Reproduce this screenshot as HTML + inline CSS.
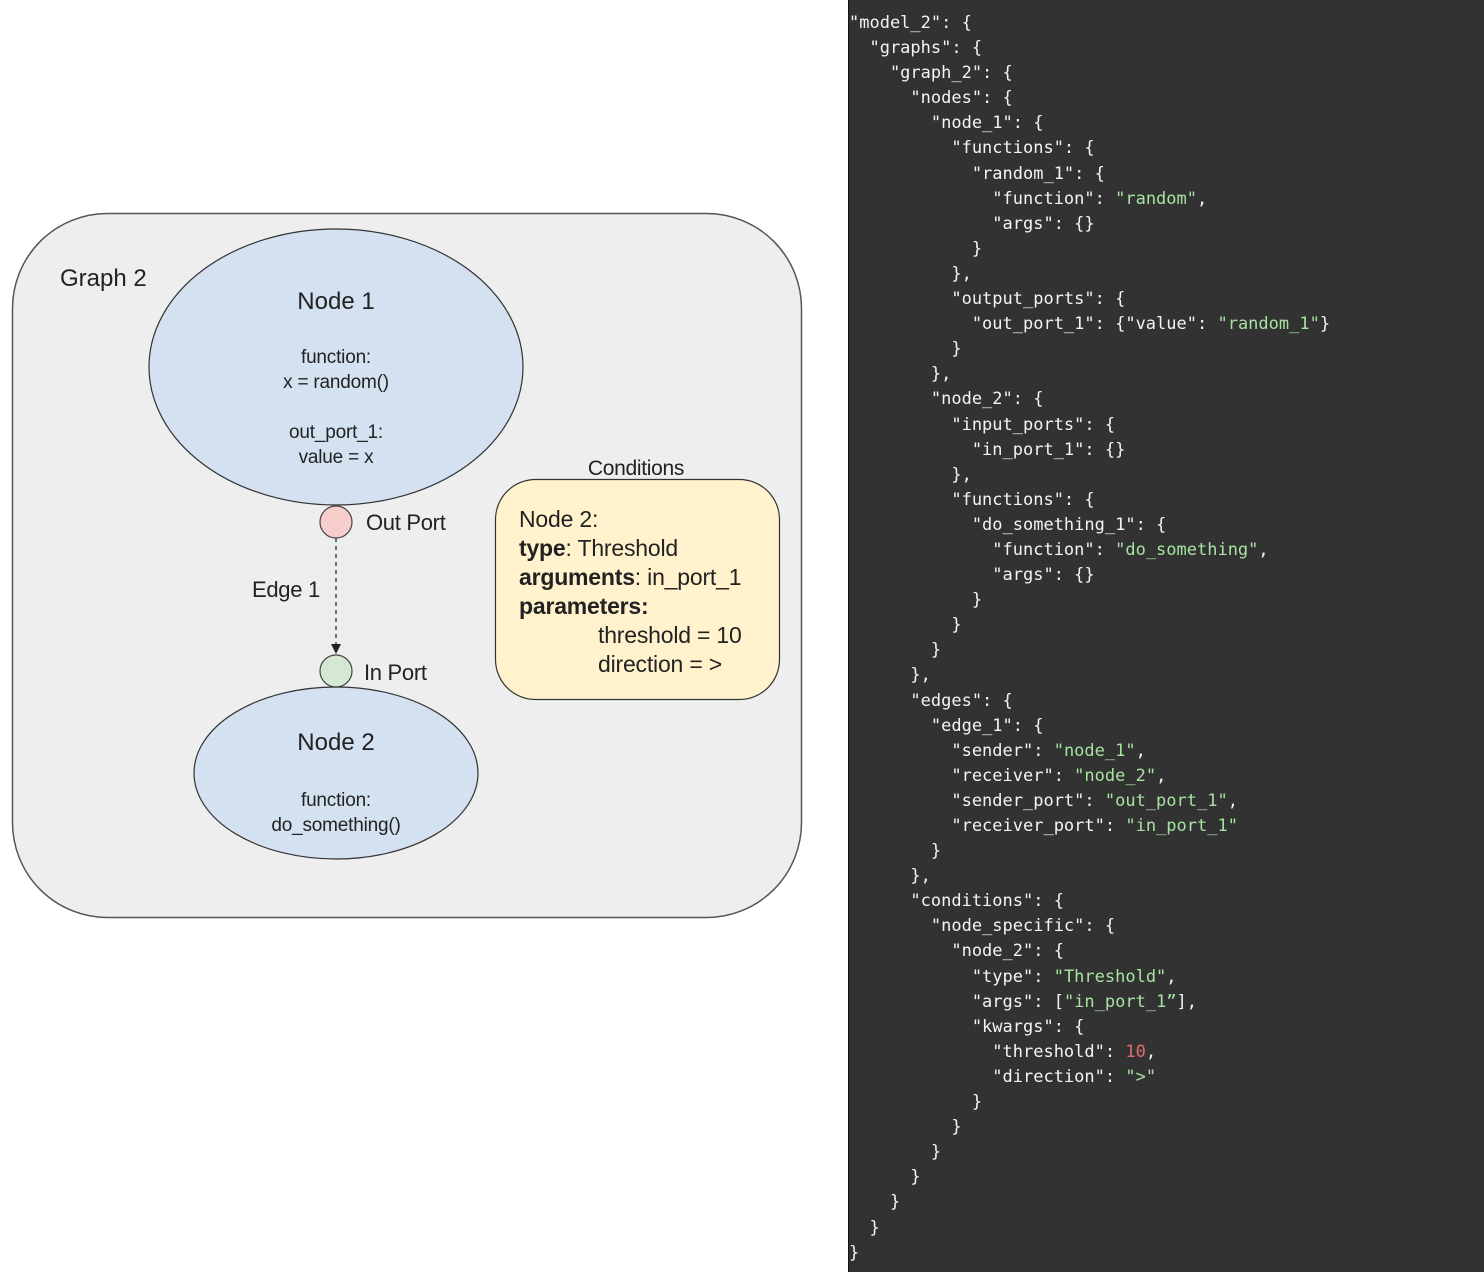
<!DOCTYPE html>
<html><head><meta charset="utf-8"><style>
html,body{margin:0;padding:0;background:#fff;width:1484px;height:1272px;overflow:hidden;position:relative}
#code{position:absolute;left:848px;top:0;width:636px;height:1272px;background:#323232;border-left:1px solid #111;box-sizing:border-box}
pre{position:absolute;left:0px;top:11px;margin:0;font-family:"DejaVu Sans Mono","Liberation Mono",monospace;font-size:17px;line-height:25.1px;color:#f4f4f4}
.g{color:#a6e3a1}.r{color:#e06c6c}
svg text{font-family:"Liberation Sans",sans-serif;fill:#222}
</style></head><body>
<svg width="848" height="1272" style="position:absolute;left:0;top:0">
<rect x="12.5" y="213.5" width="789" height="704" rx="95" fill="#eeeeee" stroke="#555" stroke-width="1.5"/>
<text x="60" y="286" font-size="24">Graph 2</text>
<ellipse cx="336" cy="367" rx="187" ry="138" fill="#d4e1f1" stroke="#333" stroke-width="1.2"/>
<g text-anchor="middle" letter-spacing="-0.2">
<text x="336" y="309" font-size="24" letter-spacing="0">Node 1</text>
<text x="336" y="363" font-size="19">function:</text>
<text x="336" y="388" font-size="19">x = random()</text>
<text x="336" y="438" font-size="19">out_port_1:</text>
<text x="336" y="463" font-size="19">value = x</text>
</g>
<line x1="336" y1="538" x2="336" y2="645" stroke="#444" stroke-width="1.5" stroke-dasharray="4,4"/>
<polygon points="331,644 341,644 336,654" fill="#222"/>
<circle cx="336" cy="522" r="16" fill="#f8cecc" stroke="#444" stroke-width="1.2"/>
<circle cx="336" cy="671" r="16" fill="#d5e8d4" stroke="#444" stroke-width="1.2"/>
<text x="366" y="530" font-size="22" letter-spacing="-0.3">Out Port</text>
<text x="364" y="680" font-size="22" letter-spacing="-0.3">In Port</text>
<text x="252" y="597" font-size="22" letter-spacing="-0.3">Edge 1</text>
<ellipse cx="336" cy="773" rx="142" ry="86" fill="#d4e1f1" stroke="#333" stroke-width="1.2"/>
<g text-anchor="middle" letter-spacing="-0.2">
<text x="336" y="750" font-size="24" letter-spacing="0">Node 2</text>
<text x="336" y="806" font-size="19">function:</text>
<text x="336" y="831" font-size="19">do_something()</text>
</g>
<text x="636" y="475" font-size="21" text-anchor="middle" letter-spacing="-0.3">Conditions</text>
<rect x="495.5" y="479.5" width="284" height="220" rx="40" fill="#fff2cc" stroke="#333" stroke-width="1.2"/>
<g font-size="23" letter-spacing="-0.2">
<text x="519" y="527">Node 2:</text>
<text x="519" y="556"><tspan font-weight="bold">type</tspan>: Threshold</text>
<text x="519" y="585"><tspan font-weight="bold">arguments</tspan>: in_port_1</text>
<text x="519" y="614" font-weight="bold">parameters:</text>
<text x="598" y="643">threshold = 10</text>
<text x="598" y="672">direction = &gt;</text>
</g>
</svg>
<div id="code"><pre>"model_2": {
  "graphs": {
    "graph_2": {
      "nodes": {
        "node_1": {
          "functions": {
            "random_1": {
              "function": <span class="g">"random"</span>,
              "args": {}
            }
          },
          "output_ports": {
            "out_port_1": {"value": <span class="g">"random_1"</span>}
          }
        },
        "node_2": {
          "input_ports": {
            "in_port_1": {}
          },
          "functions": {
            "do_something_1": {
              "function": <span class="g">"do_something"</span>,
              "args": {}
            }
          }
        }
      },
      "edges": {
        "edge_1": {
          "sender": <span class="g">"node_1"</span>,
          "receiver": <span class="g">"node_2"</span>,
          "sender_port": <span class="g">"out_port_1"</span>,
          "receiver_port": <span class="g">"in_port_1"</span>
        }
      },
      "conditions": {
        "node_specific": {
          "node_2": {
            "type": <span class="g">"Threshold"</span>,
            "args": [<span class="g">"in_port_1”</span>],
            "kwargs": {
              "threshold": <span class="r">10</span>,
              "direction": <span class="g">"&gt;"</span>
            }
          }
        }
      }
    }
  }
}</pre></div>
</body></html>
